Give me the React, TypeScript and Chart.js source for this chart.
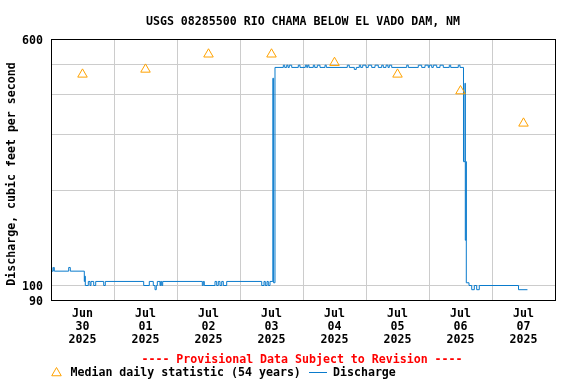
import React, { useEffect, useRef } from 'react';
import { Chart, registerables } from 'chart.js';

Chart.register(...registerables);

const TITLE = 'USGS 08285500 RIO CHAMA BELOW EL VADO DAM, NM';
const Y_TITLE = 'Discharge, cubic feet per second';
const PROVISIONAL = '---- Provisional Data Subject to Revision ----';
const MEDIAN_LABEL = 'Median daily statistic (54 years)';
const DISCHARGE_LABEL = 'Discharge';

// x values are hours since 2025-06-30 00:00
const dayMonths = ['Jun', 'Jul', 'Jul', 'Jul', 'Jul', 'Jul', 'Jul', 'Jul'];
const dayNumbers = ['30', '01', '02', '03', '04', '05', '06', '07'];
const dayYears = ['2025', '2025', '2025', '2025', '2025', '2025', '2025', '2025'];

const yTickValues = [90, 100, 200, 300, 400, 500, 600];
const yTickLabels = ['90', '100', '', '', '', '', '600'];

const medianHours = [12, 36, 60, 84, 108, 132, 156, 180];
const medianCfs = [464, 481, 537, 537, 505, 464, 411, 325];

// change points of the 15-minute discharge record (value holds until next point)
const dischargeHours = [
  0, 0.38, 0.88, 1.26, 6.74, 7.35, 12.69, 12.88, 13.07, 14.21, 14.86, 15.24, 16.27, 17.03,
  20.08, 20.69, 35.31, 37.45, 38.97, 39.62, 40.11, 40.5, 41.52, 41.79, 42.17, 42.55,
  57.64, 58.02, 58.4, 62.48, 63.12, 63.73, 64.38, 65.03, 65.64, 66.93,
  80.27, 81.14, 81.64, 82.29, 82.78, 83.43, 84.5, 84.8, 85.33,
  88.5, 89.03, 89.79, 90.29, 90.78, 91.7, 94.21, 94.86, 96.88, 97.41, 97.79, 98.29,
  99.92, 100.46, 101.45, 102.48, 104.38, 104.88, 112.88, 113.64, 115.54, 116.3,
  117.45, 117.98, 118.74, 120.0, 120.88, 122.17, 123.43, 124.69, 125.98, 126.59,
  127.62, 128.38, 128.88, 129.79, 135.5, 136.11, 139.92, 141.22, 142.48, 143.73,
  144.11, 145.03, 145.64, 146.93, 148.19, 149.45, 151.73, 152.27, 155.16, 155.81,
  157.14, 157.71, 157.83, 158.1, 158.21, 159.24, 160.27, 161.26, 162.17, 163.16,
  178.1, 181.5,
];
const dischargeCfs = [
  114, 111, 114, 111, 114, 111, 103, 107, 100, 103, 100, 103, 100, 103,
  100, 103, 100, 103, 100, 97, 100, 103, 100, 103, 100, 103,
  100, 103, 100, 103, 100, 103, 100, 103, 100, 103,
  100, 103, 100, 103, 100, 103, 451, 102, 488,
  496, 488, 496, 488, 496, 488, 496, 488, 496, 488, 496, 488,
  496, 488, 496, 488, 496, 488, 496, 488, 481, 488,
  496, 488, 496, 488, 496, 488, 496, 488, 496, 488,
  496, 488, 496, 488, 496, 488, 496, 488, 496, 488,
  496, 488, 496, 488, 496, 488, 496, 488, 496, 488,
  246, 435, 139, 246, 102, 100, 97, 100, 97, 100,
  97, 97,
];

const FONT_FAMILY = "'DejaVu Sans Mono', monospace";
const FONT_SIZE = 11.6;
const CANVAS_FONT = `bold ${FONT_SIZE}px ${FONT_FAMILY}`;
const BLUE = '#0a7bcc';
const ORANGE = '#ffa200';
const GRID = '#cccccc';

const decorPlugin = {
  id: 'decor',
  afterDraw(chart: any) {
    const { ctx, chartArea: a } = chart;
    ctx.save();
    // frame
    ctx.strokeStyle = '#000000';
    ctx.lineWidth = 1;
    ctx.strokeRect(a.left + 0.5, a.top + 0.5, a.right - a.left, a.bottom - a.top);

    ctx.font = CANVAS_FONT;
    ctx.fillStyle = '#000000';
    ctx.textBaseline = 'middle';
    ctx.textAlign = 'center';
    ctx.fillText(TITLE, (a.left + a.right) / 2, 22);

    // y-axis title
    ctx.save();
    ctx.translate(11.5, 174);
    ctx.rotate(-Math.PI / 2);
    ctx.fillText(Y_TITLE, 0, 0);
    ctx.restore();

    // provisional note
    ctx.fillStyle = '#ff0000';
    ctx.fillText(PROVISIONAL, 302, 359.5);

    // legend
    const ly = 373;
    const r = 5.5;
    const tx = 56.5;
    ctx.strokeStyle = ORANGE;
    ctx.lineWidth = 1;
    ctx.beginPath();
    ctx.moveTo(tx, ly - r);
    ctx.lineTo(tx + Math.sin((2 * Math.PI) / 3) * r, ly + r / 2);
    ctx.lineTo(tx - Math.sin((2 * Math.PI) / 3) * r, ly + r / 2);
    ctx.closePath();
    ctx.stroke();

    ctx.fillStyle = '#000000';
    ctx.textAlign = 'left';
    ctx.fillText(MEDIAN_LABEL, 70.5, ly);

    ctx.strokeStyle = BLUE;
    ctx.beginPath();
    ctx.moveTo(309, ly - 0.5);
    ctx.lineTo(327, ly - 0.5);
    ctx.stroke();
    ctx.fillText(DISCHARGE_LABEL, 333, ly);
    ctx.restore();
  },
};

export default function App() {
  const ref = useRef<HTMLCanvasElement>(null);

  useEffect(() => {
    const canvas = ref.current;
    if (!canvas) return;
    const dischargeData = dischargeHours.map((h, i) => ({ x: h, y: dischargeCfs[i] }));
    const medianData = medianHours.map((h, i) => ({ x: h, y: medianCfs[i] }));
    const tickFont = { family: FONT_FAMILY, size: FONT_SIZE, weight: 'bold' as const, lineHeight: '13.3px' };

    const chart = new Chart(canvas, {
      type: 'line',
      data: {
        datasets: [
          {
            label: MEDIAN_LABEL,
            data: medianData,
            showLine: false,
            pointStyle: 'triangle',
            pointRadius: 5.5,
            pointHoverRadius: 5.5,
            pointBorderWidth: 1,
            pointBorderColor: ORANGE,
            pointBackgroundColor: 'rgba(0,0,0,0)',
            borderColor: ORANGE,
          },
          {
            label: DISCHARGE_LABEL,
            data: dischargeData,
            stepped: true,
            borderColor: BLUE,
            borderWidth: 1,
            pointRadius: 0,
            fill: false,
          },
        ],
      },
      options: {
        responsive: false,
        animation: false,
        devicePixelRatio: 1,
        layout: { padding: { top: 39, right: 21, left: 0, bottom: 0 } },
        plugins: {
          legend: { display: false },
          title: { display: false },
          tooltip: { enabled: false },
        },
        events: [],
        scales: {
          x: {
            type: 'linear',
            min: 0,
            max: 192,
            afterBuildTicks: (scale: any) => {
              const ticks = [];
              for (let h = 0; h <= 192; h += 12) ticks.push({ value: h });
              scale.ticks = ticks;
            },
            afterFit: (scale: any) => {
              scale.height = 84;
            },
            border: { display: false },
            grid: {
              drawTicks: false,
              color: (c: any) => {
                const v = c.tick ? c.tick.value : -1;
                return v > 0 && v < 192 && v % 24 === 0 ? GRID : 'rgba(0,0,0,0)';
              },
              lineWidth: 1,
            },
            ticks: {
              autoSkip: false,
              maxRotation: 0,
              minRotation: 0,
              padding: 7,
              color: '#000000',
              font: tickFont,
              callback: (value: any) => {
                const v = Number(value);
                if (v % 24 !== 12) return '';
                const i = (v - 12) / 24;
                return [dayMonths[i], dayNumbers[i], dayYears[i]];
              },
            },
          },
          y: {
            type: 'logarithmic',
            min: 90,
            max: 600,
            afterBuildTicks: (scale: any) => {
              scale.ticks = yTickValues.map((v) => ({ value: v }));
            },
            afterFit: (scale: any) => {
              scale.width = 51;
            },
            border: { display: false },
            grid: {
              drawTicks: false,
              color: (c: any) => {
                const v = c.tick ? c.tick.value : 0;
                return v > 90 && v < 600 ? GRID : 'rgba(0,0,0,0)';
              },
              lineWidth: 1,
            },
            ticks: {
              autoSkip: false,
              padding: 8,
              labelOffset: 1.5,
              color: '#000000',
              font: tickFont,
              callback: (value: any) => {
                const i = yTickValues.indexOf(Number(value));
                return i >= 0 ? yTickLabels[i] : '';
              },
            },
          },
        },
      },
      plugins: [decorPlugin],
    });
    return () => chart.destroy();
  }, []);

  return (
    <div style={{ position: 'absolute', left: 0, top: 0, width: 576, height: 384 }}>
      <canvas ref={ref} width={576} height={384} style={{ display: 'block', width: 576, height: 384 }} />
    </div>
  );
}
